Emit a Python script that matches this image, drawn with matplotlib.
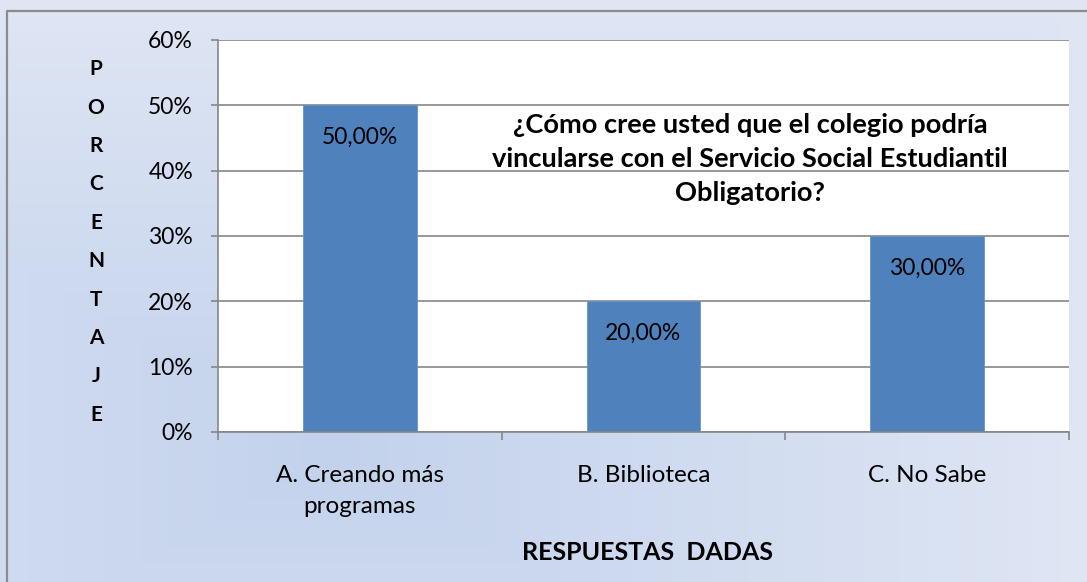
import numpy as np
import matplotlib.pyplot as plt
from matplotlib.colors import LinearSegmentedColormap

categories = ['A. Creando más\nprogramas', 'B. Biblioteca', 'C. No Sabe']
values = [50.0, 20.0, 30.0]
bar_labels = ['50,00%', '20,00%', '30,00%']
y_ticks = [0, 10, 20, 30, 40, 50, 60]
title = '¿Cómo cree usted que el colegio podría\nvincularse con el Servicio Social Estudiantil\nObligatorio?'
y_label = 'PORCENTAJE'
x_label = 'RESPUESTAS  DADAS'

plt.rcParams['font.family'] = ['Lato', 'DejaVu Sans']

W, H = 1087, 582
fig = plt.figure(figsize=(W / 100, H / 100), dpi=100)

# background gradient (path style, darker near the lower left middle)
bg = fig.add_axes([0, 0, 1, 1])
yy, xx = np.mgrid[0:H, 0:W]
cx, cy = 330, 450
d = np.maximum(np.abs(xx - cx) / 760.0, np.abs(yy - cy) / 450.0)
d = np.clip(d, 0, 1)
cmap = LinearSegmentedColormap.from_list('bg', ['#c3d2ec', '#dfe6f4'])
bg.imshow(d, cmap=cmap, aspect='auto', extent=[0, W, H, 0], interpolation='bilinear')
bg.plot([7, 7, W + 5], [H + 5, 11, 11], color='#8c8c8c', lw=1.6)
bg.set_xlim(0, W)
bg.set_ylim(H, 0)
bg.axis('off')

ax = fig.add_axes([218 / W, (H - 432) / H, (1069 - 218) / W, (432 - 40) / H])
ax.set_facecolor('white')
x = np.arange(len(categories))
bars = ax.bar(x, values, width=0.4, color='#4f81bd', edgecolor='#6a94c8', lw=0.6, zorder=3)

for b, lab in zip(bars, bar_labels):
    ax.annotate(lab, (b.get_x() + b.get_width() / 2, b.get_height()),
                xytext=(0, -23), textcoords='offset points',
                ha='center', va='center', fontsize=16.5, color='black', zorder=4)

ax.set_xlim(-0.5, len(categories) - 0.5)
ax.set_ylim(0, 60)
ax.set_yticks(y_ticks)
ax.set_yticklabels([f'{t}%' for t in y_ticks], fontsize=16.5)
ax.set_xticks(x)
ax.set_xticklabels(categories, fontsize=17.5, linespacing=1.55)
ax.set_xticks(np.arange(len(categories) + 1) - 0.5, minor=True)
ax.tick_params(axis='x', which='major', length=0, pad=24)
ax.tick_params(axis='x', which='minor', length=6, color='#868686', width=1.2)
ax.tick_params(axis='y', length=5, color='#868686', width=1.2, pad=13)
ax.yaxis.grid(True, color='#868686', lw=1.2, zorder=0)
for s in ['top', 'right']:
    ax.spines[s].set_visible(False)
for s in ['left', 'bottom']:
    ax.spines[s].set_color('#868686')
    ax.spines[s].set_linewidth(1.2)
    ax.spines[s].set_zorder(5)

ax.text(750 / W, (H - 159) / H, title, transform=fig.transFigure, ha='center', va='center',
        fontsize=19.6, fontweight='bold', linespacing=1.48, zorder=6)

fig.text(96 / W, (H - 242) / H, '\n'.join(y_label), ha='center', va='center',
         fontsize=15, fontweight='bold', linespacing=2.15)
fig.text(648 / W, (H - 553) / H, x_label, ha='center', va='center',
         fontsize=18, fontweight='bold')

fig.savefig('out.png', dpi=100)
